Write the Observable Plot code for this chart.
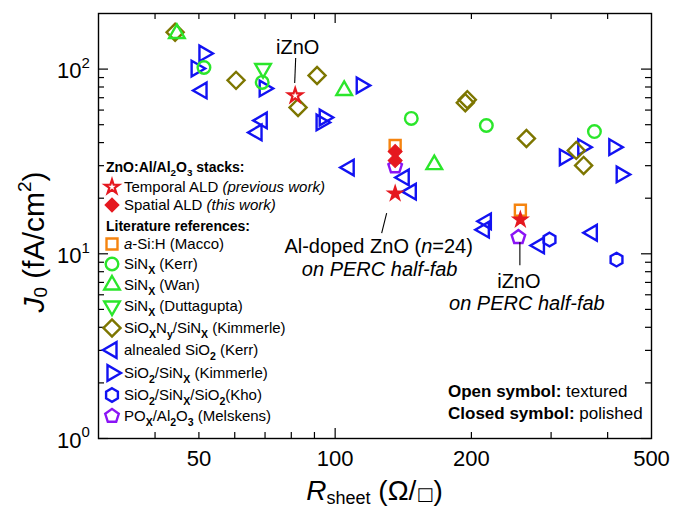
<!DOCTYPE html>
<html>
<head>
<meta charset="utf-8">
<script src="https://cdn.jsdelivr.net/npm/d3@7"></script>
<script src="https://cdn.jsdelivr.net/npm/@observablehq/plot@0.6"></script>
<style>
  body { margin: 0; background: #fff; }
  #chart svg { display: block; }
</style>
</head>
<body>
<div id="chart"></div>
<script>
// Sheet resistance (ohm/sq) and J0 (fA/cm2) pairs, one array per passivation stack
const temporalALD = [[81.6, 71.9]];                       // iZnO, open star
const temporalPERC = [[135.7, 21.2], [256.6, 15.3]];     // on PERC half-fab, filled star
const spatialALD = [[135.7, 35.8], [135.7, 32.0]];
const maccoASiH = [[135.7, 38.6], [256.6, 17.2]];
const kerrSiN = [[51.3, 102.0], [69.0, 84.7], [147.3, 54.1], [215.8, 49.5], [374, 45.9]];
const wanSiN = [[44.7, 155.9], [104.7, 76.6], [165.6, 30.4]];
const duttaguptaSiN = [[69.3, 100.7]];
const kimmerleSiON = [[44.3, 158.4], [60.4, 86.9], [91.2, 92.3], [82.8, 62.0], [195.9, 68.3],
  [193.9, 65.8], [264.6, 42.1], [341, 36.3], [354, 30.1]];
const kerrSiO2 = [[50.8, 76.6], [69.0, 52.7], [67.2, 45.4], [107.4, 29.3], [142.1, 25.9],
  [147.3, 21.7], [215.8, 15.0], [213.6, 13.5], [282.7, 11.1], [370, 13.0]];
const kimmerleSiO2SiN = [[51.3, 121.5], [49.3, 100.7], [69.7, 78.6], [114.2, 81.6], [94.6, 54.7],
  [93.1, 51.4], [321, 33.3], [352.5, 37.8], [412.8, 37.8], [428.6, 26.9]];
const khoStack = [[297.6, 11.95], [418.5, 9.3]];
const melskensPOx = [[135.7, 29.7], [254, 12.3]];

// Axis ticks and labels
const xTickLabels = [50, 100, 200, 500];
const xMajorTicks = [100];
const xMinorTicks = [40, 50, 60, 70, 80, 90, 200, 300, 400];
const yLabelValues = [1, 10, 100];
const yLabelExponents = ["0", "1", "2"];
const yMajorTicks = [1, 10, 100];
const yMinorTicks = [2, 3, 4, 5, 6, 7, 8, 9, 20, 30, 40, 50, 60, 70, 80, 90];

const W = 686, H = 509;
const M = {top: 13, right: 35, bottom: 71, left: 98};
const innerW = W - M.left - M.right;
const innerH = H - M.top - M.bottom;

const FONT = "'Liberation Sans', Arial, Helvetica, 'DejaVu Sans', sans-serif";
const RED = "#e5181f", ORANGE = "#f5840f", GREEN = "#2be62b", OLIVE = "#7d7600",
      BLUE = "#1212f2", PURPLE = "#8a14f5";

// Regular polygons drawn as d3-style symbol types
function polygonSymbol(n, offset) {
  const k = n / 2 * Math.sin(2 * Math.PI / n);
  return {
    draw(ctx, size) {
      const R = Math.sqrt(size / k);
      for (let i = 0; i < n; i++) {
        const a = offset + i * 2 * Math.PI / n;
        const px = R * Math.cos(a), py = R * Math.sin(a);
        i ? ctx.lineTo(px, py) : ctx.moveTo(px, py);
      }
      ctx.closePath();
    }
  };
}
const hexagon = polygonSymbol(6, -Math.PI / 2);
const pentagon = polygonSymbol(5, -Math.PI / 2);

// Marker style for each stack
const series = [
  {data: kerrSiO2, symbol: d3.symbolTriangle, rotate: -90, color: BLUE, r: 5.8},
  {data: kimmerleSiO2SiN, symbol: d3.symbolTriangle, rotate: 90, color: BLUE, r: 5.8},
  {data: khoStack, symbol: hexagon, rotate: 0, color: BLUE, r: 6.2},
  {data: kimmerleSiON, symbol: d3.symbolSquare, rotate: 45, color: OLIVE, r: 6.8},
  {data: wanSiN, symbol: d3.symbolTriangle, rotate: 0, color: GREEN, r: 5.8},
  {data: duttaguptaSiN, symbol: d3.symbolTriangle, rotate: 180, color: GREEN, r: 5.8},
  {data: kerrSiN, symbol: d3.symbolCircle, rotate: 0, color: GREEN, r: 6.3},
  {data: melskensPOx, symbol: pentagon, rotate: 0, color: PURPLE, r: 6.2},
  {data: maccoASiH, symbol: d3.symbolSquare, rotate: 0, color: ORANGE, r: 6.2}
];

const dotMarks = series.map(s => Plot.dot(s.data, {
  x: d => d[0], y: d => d[1], symbol: s.symbol, rotate: s.rotate, r: s.r,
  stroke: s.color, strokeWidth: 2.4, fill: "none"
}));

const chart = Plot.plot({
  width: W, height: H,
  marginTop: M.top, marginRight: M.right, marginBottom: M.bottom, marginLeft: M.left,
  style: {fontFamily: FONT, background: "#fff", color: "#000", overflow: "visible"},
  x: {type: "log", domain: [30, 500], axis: null},
  y: {type: "log", domain: [1, 200], axis: null},
  marks: [
    // inward ticks on all four sides
    Plot.ruleX(xMinorTicks, {x: d => d, insetTop: innerH - 6, stroke: "#000", strokeWidth: 1.2}),
    Plot.ruleX(xMinorTicks, {x: d => d, insetBottom: innerH - 6, stroke: "#000", strokeWidth: 1.2}),
    Plot.ruleX(xMajorTicks, {x: d => d, insetTop: innerH - 10, stroke: "#000", strokeWidth: 1.2}),
    Plot.ruleX(xMajorTicks, {x: d => d, insetBottom: innerH - 10, stroke: "#000", strokeWidth: 1.2}),
    Plot.ruleY(yMinorTicks, {y: d => d, insetRight: innerW - 6, stroke: "#000", strokeWidth: 1.2}),
    Plot.ruleY(yMinorTicks, {y: d => d, insetLeft: innerW - 6, stroke: "#000", strokeWidth: 1.2}),
    Plot.ruleY(yMajorTicks, {y: d => d, insetRight: innerW - 10, stroke: "#000", strokeWidth: 1.2}),
    Plot.ruleY(yMajorTicks, {y: d => d, insetLeft: innerW - 10, stroke: "#000", strokeWidth: 1.2}),
    Plot.frame({stroke: "#000", strokeWidth: 1.4}),
    // tick labels
    Plot.text(xTickLabels, {x: d => d, text: d => String(d), frameAnchor: "bottom",
      lineAnchor: "top", dy: 12, fontSize: 22, fill: "#000"}),
    Plot.text(yLabelValues, {y: d => d, text: () => "10", frameAnchor: "left",
      textAnchor: "end", dx: -17, dy: 2, fontSize: 22, fill: "#000"}),
    Plot.text(yLabelValues, {y: d => d, text: (d, i) => yLabelExponents[i], frameAnchor: "left",
      textAnchor: "start", dx: -17, dy: -6, fontSize: 15, fill: "#000"}),
    // literature data
    ...dotMarks,
    // ZnO:Al / Al2O3 stacks
    Plot.dot(spatialALD, {x: d => d[0], y: d => d[1], symbol: "square", rotate: 45, r: 5.6,
      fill: RED, stroke: RED, strokeWidth: 1}),
    Plot.dot(temporalPERC, {x: d => d[0], y: d => d[1], symbol: "star", r: 4.6,
      fill: RED, stroke: RED, strokeWidth: 1.5}),
    Plot.dot(temporalALD, {x: d => d[0], y: d => d[1], symbol: "star", r: 4.4,
      fill: "#fff", stroke: RED, strokeWidth: 2.2})
  ]
});

document.getElementById("chart").appendChild(chart);

const svg = d3.select(chart);
const sx = chart.scale("x"), sy = chart.scale("y");

// rich text helper: parts are [string, style] with style among "", "i", "b", "sub", "sup"
function richText(g, x, y, parts, size, anchor) {
  const t = g.append("text").attr("x", x).attr("y", y).attr("font-size", size)
    .attr("font-family", FONT).attr("fill", "#000").attr("text-anchor", anchor || "start");
  let shift = 0;
  for (const [str, st] of parts) {
    const ts = t.append("tspan").text(str);
    let target = 0;
    if (st.includes("sub")) { ts.attr("font-size", size * 0.7); target = size * 0.3; }
    if (st.includes("sup")) { ts.attr("font-size", size * 0.7); target = -size * 0.45; }
    if (target !== shift) { ts.attr("dy", target - shift); shift = target; }
    if (st.includes("i")) ts.attr("font-style", "italic");
    if (st.includes("b")) ts.attr("font-weight", "bold");
  }
  return t;
}

// Axis titles
const titles = svg.append("g");
{
  const t = titles.append("text").attr("x", M.left + innerW / 2).attr("y", 500)
    .attr("text-anchor", "middle").attr("font-family", FONT).attr("font-size", 28).attr("fill", "#000");
  t.append("tspan").attr("font-style", "italic").text("R");
  t.append("tspan").attr("font-size", 18).attr("dy", 4).text("sheet");
  t.append("tspan").attr("dy", -4).text(" (\u03A9/");
  t.append("tspan").attr("font-size", 18).attr("font-family", "'DejaVu Sans', sans-serif").text("\u25A1");
  t.append("tspan").text(")");
}
{
  const t = titles.append("text").attr("transform", "translate(44,242) rotate(-90)")
    .attr("text-anchor", "middle").attr("font-family", FONT).attr("font-size", 30).attr("fill", "#000");
  t.append("tspan").attr("font-style", "italic").text("J");
  t.append("tspan").attr("font-size", 19).attr("dy", 3).text("0");
  t.append("tspan").attr("dy", -3).text(" (fA/cm");
  t.append("tspan").attr("font-size", 19).attr("dy", -13).text("2");
  t.append("tspan").attr("dy", 13).text(")");
}

// Annotations tied to the data points
const ann = svg.append("g").attr("stroke-width", 1.1);
function leader(x1, y1, x2, y2) {
  ann.append("line").attr("x1", x1).attr("y1", y1).attr("x2", x2).attr("y2", y2).attr("stroke", "#000");
}
{
  const px = sx.apply(temporalALD[0][0]), py = sy.apply(temporalALD[0][1]);
  richText(ann, px + 3, py - 41, [["iZnO", ""]], 20, "middle");
  leader(px + 1, py - 37, px, py - 12);
}
{
  const px = sx.apply(temporalPERC[0][0]), py = sy.apply(temporalPERC[0][1]);
  leader(px - 8, py + 20, px - 13, py + 40);
  richText(ann, px - 16, py + 60, [["Al-doped ZnO (", ""], ["n", "i"], ["=24)", ""]], 20, "middle");
  richText(ann, px - 15, py + 83, [["on PERC half-fab", "i"]], 20, "middle");
}
{
  const px = sx.apply(temporalPERC[1][0]), py = sy.apply(temporalPERC[1][1]);
  leader(px, py + 23, px, py + 46);
  richText(ann, px - 1, py + 69, [["iZnO", ""]], 20, "middle");
  richText(ann, px + 7, py + 91, [["on PERC half-fab", "i"]], 20, "middle");
}

// Surface note
richText(svg, 448, 397, [["Open symbol:", "b"], [" textured", ""]], 17);
richText(svg, 448, 419, [["Closed symbol:", "b"], [" polished", ""]], 17);

// Legend
const legend = svg.append("g");
const LX = 112, TX = 124;
function legendSymbol(y, type, size, rotate, stroke, fill, sw) {
  legend.append("path")
    .attr("d", d3.symbol().type(type).size(size)())
    .attr("transform", `translate(${LX},${y}) rotate(${rotate})`)
    .attr("stroke", stroke).attr("fill", fill).attr("stroke-width", sw);
}
const area = r => Math.PI * r * r;
richText(legend, 106, 172, [["ZnO:Al/Al", "b"], ["2", "b sub"], ["O", "b"], ["3", "b sub"], [" stacks:", "b"]], 14);
legendSymbol(187, d3.symbolStar, area(4.4), 0, RED, "#fff", 2.2);
richText(legend, TX, 192, [["Temporal ALD ", ""], ["(previous work)", "i"]], 15);
legendSymbol(205, d3.symbolSquare, area(5.6), 45, RED, RED, 1);
richText(legend, TX, 210, [["Spatial ALD ", ""], ["(this work)", "i"]], 15);
richText(legend, 106, 231, [["Literature references:", "b"]], 14);
const rows = [
  [244, d3.symbolSquare, 6.2, 0, ORANGE, [["a", "i"], ["-Si:H (Macco)", ""]]],
  [264, d3.symbolCircle, 6.3, 0, GREEN, [["SiN", ""], ["X", "sub"], [" (Kerr)", ""]]],
  [285, d3.symbolTriangle, 5.8, 0, GREEN, [["SiN", ""], ["X", "sub"], [" (Wan)", ""]]],
  [306, d3.symbolTriangle, 5.8, 180, GREEN, [["SiN", ""], ["X", "sub"], [" (Duttagupta)", ""]]],
  [328, d3.symbolSquare, 6.8, 45, OLIVE, [["SiO", ""], ["X", "sub"], ["N", ""], ["y", "sub"], ["/SiN", ""], ["X", "sub"], [" (Kimmerle)", ""]]],
  [350, d3.symbolTriangle, 5.8, -90, BLUE, [["alnealed SiO", ""], ["2", "sub"], [" (Kerr)", ""]]],
  [373, d3.symbolTriangle, 5.8, 90, BLUE, [["SiO", ""], ["2", "sub"], ["/SiN", ""], ["X", "sub"], [" (Kimmerle)", ""]]],
  [395, hexagon, 6.2, 0, BLUE, [["SiO", ""], ["2", "sub"], ["/SiN", ""], ["X", "sub"], ["/SiO", ""], ["2", "sub"], ["(Kho)", ""]]],
  [416, pentagon, 6.2, 0, PURPLE, [["PO", ""], ["X", "sub"], ["/Al", ""], ["2", "sub"], ["O", ""], ["3", "sub"], [" (Melskens)", ""]]]
];
for (const [y, type, r, rot, color, parts] of rows) {
  legendSymbol(y, type, area(r), rot, color, "none", 2.4);
  richText(legend, TX, y + 5, parts, 15);
}
</script>
</body>
</html>
